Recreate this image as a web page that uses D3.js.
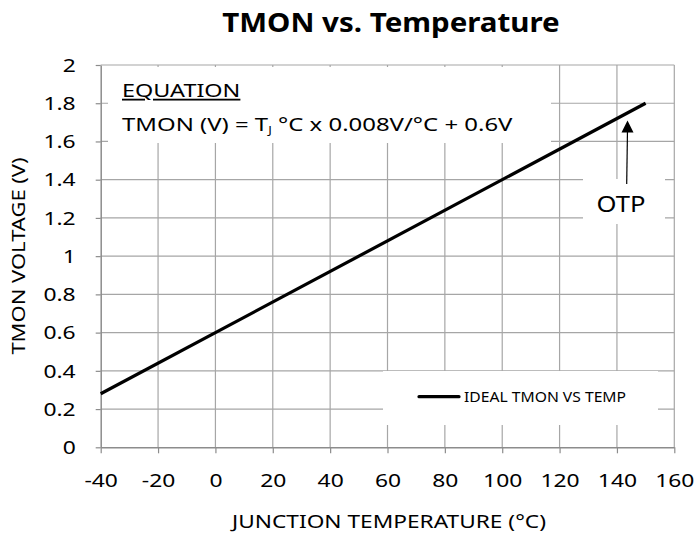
<!DOCTYPE html>
<html>
<head>
<meta charset="utf-8">
<script src="https://cdn.jsdelivr.net/npm/d3@7"></script>
<style>
  body { margin: 0; background: #fff; }
  svg { display: block; }
  text { font-family: "Noto Sans", "Open Sans", sans-serif; fill: #000; }
</style>
</head>
<body>
<svg id="chart" width="699" height="533"></svg>
<script>
// Ideal TMON transfer curve endpoints (junction temperature in °C, voltage in V)
const temperature = [-40, 150];
const tmonVoltage = [0.28, 1.8];

// Axis ticks
const xTicks = [-40, -20, 0, 20, 40, 60, 80, 100, 120, 140, 160];
const yTicks = [0, 0.2, 0.4, 0.6, 0.8, 1, 1.2, 1.4, 1.6, 1.8, 2];

const titleText = "TMON vs. Temperature";
const xTitle = "JUNCTION TEMPERATURE (°C)";
const yTitle = "TMON VOLTAGE (V)";
const legendLabel = "IDEAL TMON VS TEMP";
const otpLabel = "OTP";
const otpPoint = [143.5, 1.72];

const svg = d3.select("#chart");
const plotLeft = 100.7, plotRight = 674.3, plotTop = 65, plotBottom = 447.3;

const x = d3.scaleLinear().domain([-40, 160]).range([plotLeft, plotRight]);
const y = d3.scaleLinear().domain([0, 2]).range([plotBottom, plotTop]);

const gridColor = "#a6a6a6";
const axisColor = "#8c8c8c";
const wide = 1.27; // horizontal stretch giving the wide sans look

// Text placed at (tx, ty), widened horizontally around its anchor
function label(parent, tx, ty, str, size, sx, anchor = "start", rotate = 0) {
  const g = parent.append("g")
    .attr("transform", `translate(${tx},${ty}) rotate(${rotate}) scale(${sx},1)`);
  return g.append("text").attr("font-size", size).attr("text-anchor", anchor).text(str);
}

// Gridlines
svg.append("g").selectAll("line").data(xTicks.slice(1)).join("line")
  .attr("x1", d => x(d)).attr("x2", d => x(d))
  .attr("y1", plotTop).attr("y2", plotBottom)
  .attr("stroke", gridColor).attr("stroke-width", 1.2);
svg.append("g").selectAll("line").data(yTicks.slice(1)).join("line")
  .attr("x1", plotLeft).attr("x2", plotRight)
  .attr("y1", d => y(d)).attr("y2", d => y(d))
  .attr("stroke", gridColor).attr("stroke-width", 1.2);

// Axes
const xAxis = svg.append("g")
  .attr("transform", `translate(0,${plotBottom})`)
  .call(d3.axisBottom(x).tickValues(xTicks).tickFormat(d => String(d))
    .tickSize(6).tickSizeOuter(0).tickPadding(21));
const yAxis = svg.append("g")
  .attr("transform", `translate(${plotLeft},0)`)
  .call(d3.axisLeft(y).tickValues(yTicks).tickFormat(d => String(+d.toFixed(1)))
    .tickSize(5).tickSizeOuter(0).tickPadding(20));
[xAxis, yAxis].forEach(a => {
  a.select(".domain").attr("stroke", axisColor).attr("stroke-width", 1.5);
  a.selectAll(".tick line").attr("stroke", axisColor).attr("stroke-width", 1.2);
  a.selectAll(".tick text").attr("font-size", 18).attr("fill", "#000")
    .attr("font-family", "'Noto Sans', sans-serif")
    .attr("transform", `scale(${wide},1)`);
});
yAxis.selectAll(".tick text").attr("dy", "0.35em").attr("x", -25 / wide);

// Data line
const line = d3.line().x((d, i) => x(temperature[i])).y(d => y(d));
svg.append("path").datum(tmonVoltage)
  .attr("d", line).attr("fill", "none")
  .attr("stroke", "#000").attr("stroke-width", 3.2);

// Equation box
const eq = svg.append("g");
eq.append("rect").attr("x", 108).attr("y", 67).attr("width", 443).attr("height", 76)
  .attr("fill", "#fff");
label(eq, 122, 97, "EQUATION", 18, 1.3).attr("text-decoration", "underline");
const eqLine = label(eq, 122, 131, "", 18, 1.33);
eqLine.append("tspan").text("TMON (V) = T");
eqLine.append("tspan").attr("font-size", 10).attr("dy", 3).text("J");
eqLine.append("tspan").attr("dy", -3).text(" °C x 0.008V/°C + 0.6V");

// OTP annotation
const otp = svg.append("g");
otp.append("rect").attr("x", 583).attr("y", 179).attr("width", 82).attr("height", 45)
  .attr("fill", "#fff");
label(otp, 621, 212, otpLabel, 21, 1.22, "middle");
const tipX = x(otpPoint[0]) + 0.5, tipY = y(otpPoint[1]) + 2;
otp.append("line").attr("x1", 626.7).attr("y1", 184).attr("x2", tipX).attr("y2", tipY + 10)
  .attr("stroke", "#000").attr("stroke-width", 1.2);
otp.append("path")
  .attr("d", `M${tipX},${tipY} L${tipX - 6},${tipY + 12} L${tipX + 6},${tipY + 12} Z`)
  .attr("fill", "#000");

// Legend
const lg = svg.append("g");
lg.append("rect").attr("x", 383).attr("y", 371).attr("width", 275).attr("height", 54)
  .attr("fill", "#fff");
lg.append("line").attr("x1", 419).attr("x2", 459).attr("y1", 396.7).attr("y2", 396.7)
  .attr("stroke", "#000").attr("stroke-width", 3.2).attr("stroke-linecap", "round");
label(lg, 464, 402, legendLabel, 15, 1.045);

// Titles
label(svg, 391, 32, titleText, 26, 1.135, "middle").attr("font-weight", "bold");
label(svg, 389, 528, xTitle, 18, 1.26, "middle");
label(svg, 25, 256, yTitle, 18, 1.22, "middle", -90);
</script>
</body>
</html>
